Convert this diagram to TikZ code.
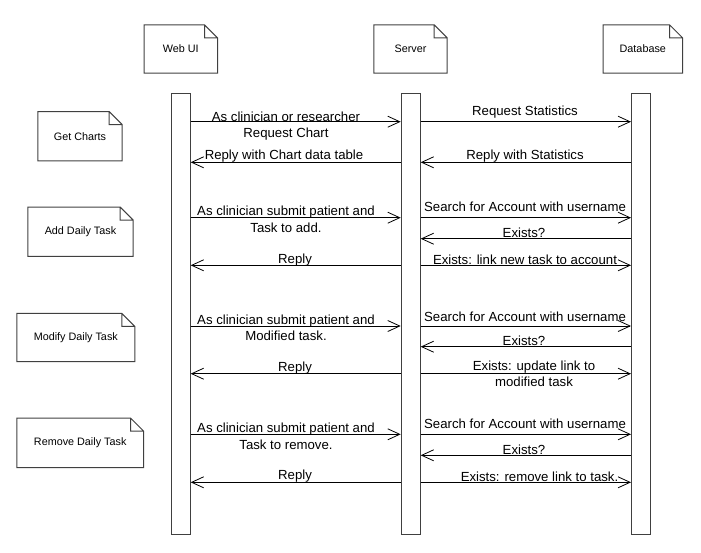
\documentclass[tikz,border=0pt]{standalone}
\usepackage{fontspec}
\setmainfont{Liberation Sans}
\usetikzlibrary{arrows.meta,positioning}
\definecolor{boxgray}{HTML}{404040}
\newcommand\lblfont{\fontsize{13.2}{16.5}\selectfont}
\newcommand\notefont{\fontsize{10.8}{12.5}\selectfont}
\tikzset{
    every node/.style={font=\lblfont},
    note/.style={minimum height=48pt,font=\notefont,align=center,inner sep=0pt},
    bar/.style={draw=boxgray,line width=1pt,fill=white,minimum width=19pt,minimum height=441pt,inner sep=0pt},
    msg/.style={-{Straight Barb[length=12pt,width=11pt]},line width=0.8pt},
    lbl/.style={align=center,inner sep=0pt}
}

\begin{document}
\begin{tikzpicture}[x=1pt,y=-1pt]
    \useasboundingbox (0,0) rectangle (701,552);

        % header notes
        \node[note,minimum width=73pt] (web) at (180.8,49) {Web UI};
        \node[note,minimum width=73pt] (srv) at (410.5,49) {Server};
        \node[note,minimum width=79pt] (db) at (642.8,49) {Database};
        % side notes
        \node[note,minimum width=84pt,minimum height=49pt] (charts) at (80,136.2) {Get Charts};
        \node[note,minimum width=105pt,minimum height=49pt] (add) at (80.5,231.7) {Add Daily Task};
        \node[note,minimum width=117.5pt] (modify) at (75.8,337.5) {Modify Daily Task};
        \node[note,minimum width=126.4pt,minimum height=49pt] (remove) at (80.2,442.8) {Remove Daily Task};
        \foreach \n in {web,srv,db,charts,add,modify,remove}
            \draw[boxgray,line width=1pt] (\n.north west) -- ([xshift=-13pt]\n.north east)
                -- ([yshift=-13pt]\n.north east) -- (\n.south east) -- (\n.south west) -- cycle
                ([xshift=-13pt]\n.north east) |- ([yshift=-13pt]\n.north east);

        % lifelines
        \node[bar] (webbar) at (180.7,313.5) {};
        \node[bar] (srvbar) at (410.7,313.5) {};
        \node[bar] (dbbar) at (641,313.5) {};

        % get charts
        \draw[msg] (webbar.east |- 0,121.7) -- (srvbar.west |- 0,121.7);
        \draw[msg] (srvbar.east |- 0,121.7) -- (dbbar.west |- 0,121.7);
        \draw[msg] (dbbar.west |- 0,162.3) -- (srvbar.east |- 0,162.3);
        \draw[msg] (srvbar.west |- 0,162.3) -- (webbar.east |- 0,162.3);
        \node[lbl] (c1) at (286,126) {As clinician or researcher\\Request Chart};
        \node[lbl] (c2) at (525,111.7) {Request Statistics};
        \node[lbl] (c3) at (284,156) {Reply with Chart data table};
        \node[lbl] (c4) at (525,156) {Reply with Statistics};

        % add daily task
        \draw[msg] (webbar.east |- 0,217.7) -- (srvbar.west |- 0,217.7);
        \draw[msg] (srvbar.east |- 0,217.7) -- (dbbar.west |- 0,217.7);
        \draw[msg] (dbbar.west |- 0,238.7) -- (srvbar.east |- 0,238.7);
        \draw[msg] (srvbar.west |- 0,265.3) -- (webbar.east |- 0,265.3);
        \draw[msg] (srvbar.east |- 0,265.3) -- (dbbar.west |- 0,265.3);
        \node[lbl] (a1) at (286,219.5) {As clinician submit patient and\\Task to add.};
        \node[lbl] (a2) at (525,207) {Search for Account with username};
        \node[lbl] (a3) at (524,233) {Exists?};
        \node[lbl] (a4) at (295,260) {Reply};
        \node[lbl] (a5) at (525,260) {Exists: link new task to account};

        % modify daily task
        \draw[msg] (webbar.east |- 0,326) -- (srvbar.west |- 0,326);
        \draw[msg] (srvbar.east |- 0,326) -- (dbbar.west |- 0,326);
        \draw[msg] (dbbar.west |- 0,346.7) -- (srvbar.east |- 0,346.7);
        \draw[msg] (srvbar.west |- 0,373.7) -- (webbar.east |- 0,373.7);
        \draw[msg] (srvbar.east |- 0,373.7) -- (dbbar.west |- 0,373.7);
        \node[lbl] (m1) at (286,328) {As clinician submit patient and\\Modified task.};
        \node[lbl] (m2) at (525,316.5) {Search for Account with username};
        \node[lbl] (m3) at (524,341) {Exists?};
        \node[lbl] (m4) at (295,368) {Reply};
        \node[lbl] (m5) at (534,374) {Exists: update link to\\modified task};

        % remove daily task
        \draw[msg] (webbar.east |- 0,434.3) -- (srvbar.west |- 0,434.3);
        \draw[msg] (srvbar.east |- 0,434.3) -- (dbbar.west |- 0,434.3);
        \draw[msg] (dbbar.west |- 0,455.3) -- (srvbar.east |- 0,455.3);
        \draw[msg] (srvbar.west |- 0,482.3) -- (webbar.east |- 0,482.3);
        \draw[msg] (srvbar.east |- 0,482.3) -- (dbbar.west |- 0,482.3);
        \node[lbl] (r1) at (286,436.5) {As clinician submit patient and\\Task to remove.};
        \node[lbl] (r2) at (525,423.5) {Search for Account with username};
        \node[lbl] (r3) at (524,449.5) {Exists?};
        \node[lbl] (r4) at (295,476.5) {Reply};
        \node[lbl] (r5) at (539.5,476.5) {Exists: remove link to task.};
      \end{tikzpicture}
\end{document}
